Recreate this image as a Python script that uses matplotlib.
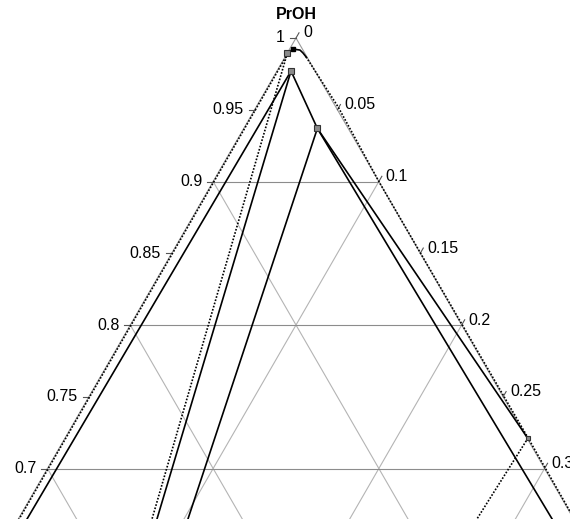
import numpy as np
import matplotlib.pyplot as plt

plt.rcParams["font.family"] = ["Liberation Sans", "DejaVu Sans"]

# compositions: PrOH fraction (top corner) and the right-axis component
# solid tie lines
solid_p = [
    [0.977, 0.600],
    [0.977, 0.600],
    [0.977, 0.937],
    [0.937, 0.600],
    [0.937, 0.600],
    [0.937, 0.721],
    [0.9896, 0.9923, 0.9916, 0.9896, 0.9868],
]
solid_c = [
    [0.0085, 0.0046],
    [0.0085, 0.0993],
    [0.0085, 0.0444],
    [0.0444, 0.1162],
    [0.0444, 0.3883],
    [0.0444, 0.2794],
    [0.0, 0.0020, 0.0066, 0.0094, 0.0127],
]

# dotted curves
dot_p = [
    [0.600, 0.9896],
    [0.9868, 0.952, 0.90, 0.7213, 0.600],
    [0.9896, 0.600],
    [0.7213, 0.600],
]
dot_c = [
    [0.0005, 0.0005],
    [0.0127, 0.0494, 0.100, 0.2794, 0.400],
    [0.0, 0.0968],
    [0.2794, 0.2738],
]

# experimental points
pts_p = [0.9896, 0.977, 0.937]
pts_c = [0.0, 0.0085, 0.0444]
end_p = [0.7213]
end_c = [0.2794]
top_p = [0.9923]
top_c = [0.0020]

left_ticks = [0.7, 0.75, 0.8, 0.85, 0.9, 0.95, 1.0]
left_labels = ["0.7", "0.75", "0.8", "0.85", "0.9", "0.95", "1"]
right_ticks = [0.0, 0.05, 0.1, 0.15, 0.2, 0.25, 0.3]
right_labels = ["0", "0.05", "0.1", "0.15", "0.2", "0.25", "0.3"]

S3 = np.sqrt(3) / 2


def tern(p, c):
    p = np.asarray(p, dtype=float)
    c = np.asarray(c, dtype=float)
    return c + p / 2, p * S3


fig = plt.figure(figsize=(5.7, 5.19), dpi=100)
ax = fig.add_axes([0, 0, 1, 1])
px = 1 / 1657  # one pixel in data units
ax.set_xlim(0.5 - 296 * px, 0.5 + 274 * px)
ax.set_ylim(S3 + 38 * px - 519 * px, S3 + 38 * px)
ax.axis("off")

# grid
for v in np.arange(0.1, 1.0, 0.1):
    x, y = tern([v, v], [0, 1 - v])
    ax.plot(x, y, color="#8c8c8c", lw=0.8, zorder=1)
    x, y = tern([1 - v, 0], [v, v])
    ax.plot(x, y, color="#b4b4b4", lw=0.8, zorder=1)
    x, y = tern([1 - v, 0], [0, 1 - v])
    ax.plot(x, y, color="#b4b4b4", lw=0.8, zorder=1)

# triangle edges
x, y = tern([0, 1, 0], [0, 0, 1])
ax.plot(x, y, color="#9a9a9a", lw=0.8, zorder=1)

for p, c in zip(solid_p, solid_c):
    x, y = tern(p, c)
    ax.plot(x, y, color="black", lw=1.2, zorder=3)

for p, c in zip(dot_p, dot_c):
    x, y = tern(p, c)
    ax.plot(x, y, color="black", lw=1.2, linestyle=(0, (1, 1)), zorder=3)

x, y = tern(pts_p, pts_c)
ax.plot(x, y, "s", ms=4.5, mfc="#8a8a8a", mec="#333333", mew=0.8, zorder=4)
x, y = tern(end_p, end_c)
ax.plot(x, y, "s", ms=3.5, mfc="#8a8a8a", mec="#333333", mew=0.8, zorder=4)
x, y = tern(top_p, top_c)
ax.plot(x, y, "s", ms=3, mfc="black", mec="black", zorder=4)

# ticks and labels
tl = 6 * px
for v, lab in zip(left_ticks, left_labels):
    x, y = tern(v, 0)
    ax.plot([x - tl, x], [y, y], color="#555555", lw=0.8, zorder=2)
    ax.text(x - tl - 5 * px, y, lab, ha="right", va="center", fontsize=11.5)

for v, lab in zip(right_ticks, right_labels):
    x, y = tern(1 - v, v)
    ax.plot([x, x + 0.5 * tl], [y, y + S3 * tl], color="#555555", lw=0.8, zorder=2)
    ax.text(x + 7 * px, y + 5 * px, lab, ha="left", va="center", fontsize=11.5)

x, y = tern(1, 0)
ax.text(x, y + 23 * px, "PrOH", ha="center", va="center", fontsize=11.5,
        fontweight="bold")

fig.savefig("out.png", dpi=100)
